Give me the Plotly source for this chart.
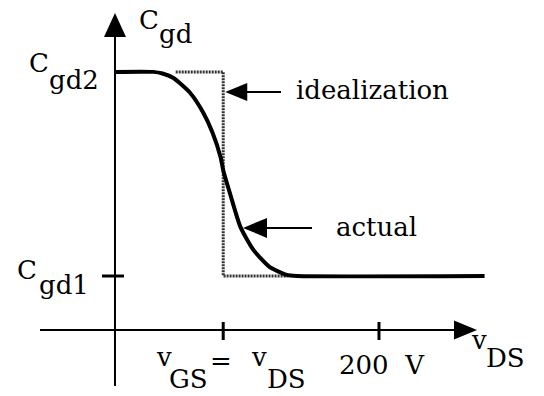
import plotly.graph_objects as go

W, H = 544, 396

# Operating points (volts) and capacitance levels (normalised to C_gd1)
V_GS = 82
V_TICK = 200
C_GD1 = 1.0
C_GD2 = 4.78

# Measured C_gd versus v_DS
v_actual = [0, 29, 36, 44, 57, 67, 74, 80, 82, 87, 95, 105, 117, 130, 138, 280]
c_actual = [4.78, 4.78, 4.75, 4.67, 4.39, 4.02, 3.65, 3.20, 2.96, 2.54, 1.91, 1.48,
            1.17, 1.02, 1.0, 1.0]

# Step idealisation of the same characteristic
v_ideal = [46, V_GS, V_GS, 132]
c_ideal = [C_GD2, C_GD2, C_GD1, C_GD1]

X_RANGE = [-87.1, 325.0]
Y_RANGE = [-1.222, 6.111]
SX = W / (X_RANGE[1] - X_RANGE[0])   # px per volt
SY = H / (Y_RANGE[1] - Y_RANGE[0])   # px per capacitance unit

FONT = dict(family="DejaVu Serif", size=26, color="black")


def px2x(px):
    return X_RANGE[0] + px / SX


def py2y(py):
    return Y_RANGE[1] - py / SY


def arrowhead(tx, ty, direction, length, half):
    """Filled triangular arrowhead with its tip at (tx, ty)."""
    if direction == "left":
        bx = tx + length / SX
        pts = [(tx, ty), (bx, ty + half / SY), (bx, ty - half / SY)]
    elif direction == "right":
        bx = tx - length / SX
        pts = [(tx, ty), (bx, ty + half / SY), (bx, ty - half / SY)]
    else:  # up
        by = ty - length / SY
        pts = [(tx, ty), (tx - half / SX, by), (tx + half / SX, by)]
    path = "M " + " L ".join(f"{x:.4f},{y:.4f}" for x, y in pts) + " Z"
    return dict(type="path", path=path, xref="x", yref="y",
                fillcolor="black", line=dict(color="black", width=0))


def seg(x0, y0, x1, y1, width=2):
    return dict(type="line", x0=x0, y0=y0, x1=x1, y1=y1, xref="x", yref="y",
                line=dict(color="black", width=width))


fig = go.Figure()

fig.add_trace(go.Scatter(
    x=v_ideal, y=c_ideal, mode="lines",
    line=dict(color="#333333", width=3, dash="2px,1px"),
    hoverinfo="skip", showlegend=False))

fig.add_trace(go.Scatter(
    x=v_actual, y=c_actual, mode="lines",
    line=dict(color="black", width=4, shape="spline", smoothing=0.6),
    hoverinfo="skip", showlegend=False))

shapes = []
# axes with arrowheads
x_tip = px2x(477)
shapes.append(seg(px2x(40), 0, x_tip - 22 / SX, 0))
shapes.append(arrowhead(x_tip, 0, "right", 23, 9.5))
y_tip = py2y(13)
shapes.append(seg(0, py2y(386), 0, y_tip - 22 / SY))
shapes.append(arrowhead(0, y_tip, "up", 24, 11))
# tick marks
for v in (V_GS, V_TICK):
    shapes.append(seg(v, 8 / SY, v, -10 / SY, width=3))
shapes.append(seg(-13 / SX, C_GD1, 9 / SX, C_GD1, width=3))

# pointer arrows
y_id = py2y(92)
tip_id = V_GS + 2 / SX
shapes.append(seg(tip_id + 20 / SX, y_id, px2x(281), y_id))
shapes.append(arrowhead(tip_id, y_id, "left", 22, 9))

y_ac = 1.89
tip_ac = 97
shapes.append(seg(tip_ac + 22 / SX, y_ac, px2x(312), y_ac))
shapes.append(arrowhead(tip_ac, y_ac, "left", 24, 10))

annotations = []


def label(text, px, py, size=26):
    annotations.append(dict(
        text=text, x=px / W, y=1 - py / H, xref="paper", yref="paper",
        xanchor="left", yanchor="middle", showarrow=False,
        font=dict(FONT, size=size)))


# y-axis title C_gd
label("C", 137, 20)
label("gd", 157, 34)
# C_gd2 level
label("C", 27, 63)
label("gd2", 47, 80)
# C_gd1 level
label("C", 15, 270)
label("gd1", 37, 285)
# v_GS = v_DS tick label
label("v", 154, 357)
label("GS", 167, 379)
label("=", 208, 361)
label("v", 249, 357)
label("DS", 265, 379)
# 200 V tick label
label("200  V", 337, 365)
# x-axis title v_DS
label("v", 469, 340)
label("DS", 484, 358)
# pointer labels
label("idealization", 294, 90)
label("actual", 334, 227)

fig.update_layout(
    width=W, height=H,
    margin=dict(l=0, r=0, t=0, b=0),
    paper_bgcolor="white", plot_bgcolor="white",
    xaxis=dict(range=X_RANGE, visible=False, fixedrange=True),
    yaxis=dict(range=Y_RANGE, visible=False, fixedrange=True),
    shapes=shapes, annotations=annotations,
    showlegend=False,
)

fig.write_html("out.html")
